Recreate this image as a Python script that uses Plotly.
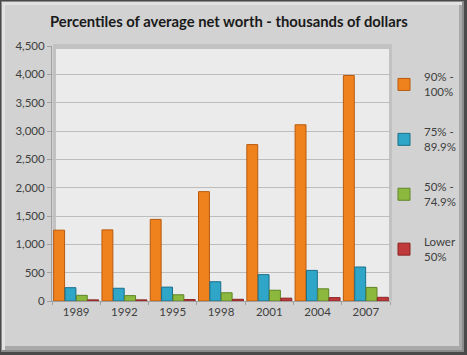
import plotly.graph_objects as go

years = ["1989", "1992", "1995", "1998", "2001", "2004", "2007"]
series_names = ["90% -<br>100%", "75% -<br>89.9%", "50% -<br>74.9%", "Lower<br>50%"]
top10 = [1250, 1255, 1440, 1930, 2760, 3110, 3980]
p75_90 = [235, 225, 245, 340, 465, 540, 600]
p50_75 = [100, 95, 110, 145, 190, 215, 240]
lower50 = [20, 20, 25, 30, 50, 60, 65]
values = [top10, p75_90, p50_75, lower50]
colors = ["#F0821E", "#2FA5C8", "#8DB83E", "#C0393B"]
edges = ["#B85A0C", "#1B6F8A", "#5E8526", "#8A2425"]

W, H = 467, 355
L, R, T, B = 52, 390, 46, 301
pw, ph = R - L, B - T

def px(x):
    return (x - L) / pw

def py(y):
    return (B - y) / ph

fig = go.Figure()
for i, (name, vals) in enumerate(zip(series_names, values)):
    fig.add_trace(go.Bar(
        x=years, y=vals, name=name, legendgroup=str(i),
        marker=dict(color=colors[i], line=dict(color=edges[i], width=1)),
    ))

def rect(x0, y0, x1, y1, color):
    return dict(type="rect", xref="paper", yref="paper", x0=px(x0), x1=px(x1),
                y0=py(y1), y1=py(y0), fillcolor=color, line=dict(width=0), layer="below")

shapes = [
    rect(0, 0, W, H, "#4a4a4a"),
    rect(1, 1, W - 3, H - 3, "#8c8c8c"),
    rect(2, 2, W - 5, H - 5, "#e2e2e2"),
    rect(5, 5, W - 5, H - 5, "#a9a9a9"),
    rect(5, 5, W - 8, H - 9, "#d2d2d2"),
    # plot area bevel
    rect(L + 1, T - 2, R + 2, B, "#c2c2c2"),
    rect(L + 4, T + 3, R - 1, B, "#ebebeb"),
]

fig.update_layout(
    width=W, height=H,
    margin=dict(l=L, r=W - R, t=T, b=H - B, autoexpand=False),
    paper_bgcolor="#d2d2d2",
    plot_bgcolor="rgba(0,0,0,0)",
    barmode="group", bargap=0.06, bargroupgap=0.04,
    title=dict(text="<b>Percentiles of average net worth - thousands of dollars</b>",
               x=0.49, xanchor="center", y=1 - 22 / H, yanchor="middle",
               font=dict(family="Lato", size=14.8, color="#1a1a1a")),
    font=dict(family="Lato", size=11, color="#404040"),
    xaxis=dict(showgrid=False, ticks="outside", ticklen=3, tickcolor="#a0a0a0",
               showline=True, linecolor="#a0a0a0", tickson="boundaries",
               tickfont=dict(size=11.5, color="#404040")),
    yaxis=dict(range=[0, 4500], dtick=500, tickformat=",d", showgrid=True,
               gridcolor="#bdbdbd", gridwidth=1, showline=True, linecolor="#a0a0a0",
               ticks="outside", ticklen=4, tickcolor="#a0a0a0", zeroline=False,
               tickfont=dict(size=11.5, color="#404040")),
    legend=dict(x=px(384), y=py(63), xanchor="left", yanchor="top",
                bgcolor="rgba(0,0,0,0)", tracegroupgap=22, traceorder="grouped",
                font=dict(size=11.5, color="#404040"), itemwidth=30),
    shapes=shapes,
)

fig.write_html("out.html", config={"displayModeBar": False},
               post_script="document.body.style.margin='0';")
